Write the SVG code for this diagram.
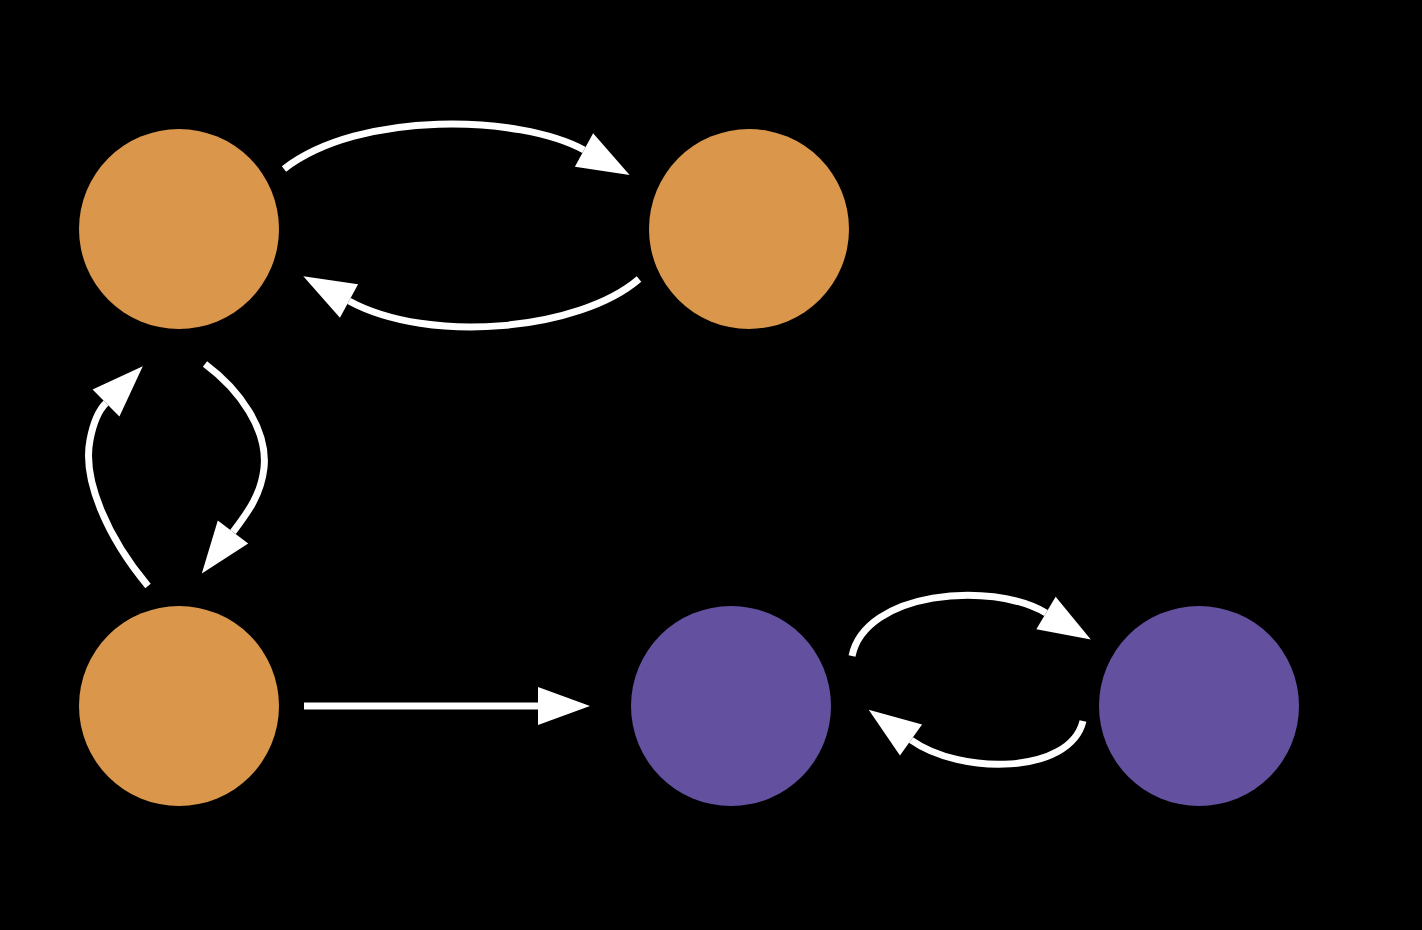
<svg xmlns="http://www.w3.org/2000/svg" width="1422" height="930" viewBox="0 0 1422 930">
<style>
.orange{fill:#DA964B}
.purple{fill:#63509F}
.edge{fill:none;stroke:#FFFFFF;stroke-width:7;marker-end:url(#head)}
</style>
<defs>
<marker id="head" markerUnits="userSpaceOnUse" markerWidth="54" markerHeight="40" refX="0" refY="19" orient="auto" overflow="visible">
<path d="M0,0 L52,19 L0,38 Z" fill="#FFFFFF"/>
</marker>
</defs>
<rect width="1422" height="930" fill="#000000"/>
<g id="nodeA"><circle class="orange" cx="179" cy="229" r="100"/></g>
<g id="nodeB"><circle class="orange" cx="749" cy="229" r="100"/></g>
<g id="nodeC"><circle class="orange" cx="179" cy="706" r="100"/></g>
<g id="nodeD"><circle class="purple" cx="731" cy="706" r="100"/></g>
<g id="nodeE"><circle class="purple" cx="1199" cy="706" r="100"/></g>
<g id="connectors">
<path class="edge" d="M284,169 C360,110 520,115 584,150"/>
<path class="edge" d="M639,279 C580,330 430,345 349,301"/>
<path class="edge" d="M205,364 C240,390 268,430 264,468 C261,495 248,512 233,532"/>
<path class="edge" d="M148,586 C108,538 82,480 90,440 C93,424 97,412 106,403"/>
<path class="edge" d="M304,706 L538,706"/>
<path class="edge" d="M852,656 C865,592 990,580 1046,613"/>
<path class="edge" d="M1083,721 C1070,775 960,775 911,740"/>
</g>
</svg>
